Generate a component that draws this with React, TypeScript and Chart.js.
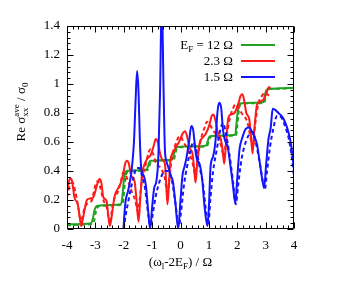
import React, { useEffect, useRef } from "react";
import { Chart, registerables } from "chart.js";
Chart.register(...registerables);

const X_TICKS = [-4, -3, -2, -1, 0, 1, 2, 3, 4];
const X_TICK_LABELS = ["-4", "-3", "-2", "-1", "0", "1", "2", "3", "4"];
const Y_TICKS = [0, 0.2, 0.4, 0.6, 0.8, 1, 1.2, 1.4];
const Y_TICK_LABELS = ["0", "0.2", "0.4", "0.6", "0.8", "1", "1.2", "1.4"];

const GREEN = "#22a022";
const RED = "#ff1a1a";
const BLUE = "#1414ff";

const GREEN_SOLID: number[][] = [
  [-4, 0.03], [-3.5, 0.035], [-3.15, 0.04], [-3.09, 0.07], [-3.03, 0.13], [-2.97, 0.155], [-2.9, 0.16],
  [-2.5, 0.165], [-2.1, 0.17], [-2.05, 0.22], [-2.0, 0.33], [-1.95, 0.385], [-1.9, 0.4], [-1.5, 0.405],
  [-1.2, 0.41], [-1.15, 0.43], [-1.1, 0.46], [-1.05, 0.47], [-0.6, 0.475], [-0.28, 0.48], [-0.23, 0.52],
  [-0.18, 0.555], [-0.12, 0.565], [0.5, 0.57], [0.9, 0.575], [0.95, 0.6], [1.0, 0.63], [1.05, 0.64],
  [1.6, 0.645], [1.93, 0.65], [1.97, 0.72], [2.01, 0.8], [2.05, 0.85], [2.1, 0.865], [2.6, 0.87],
  [2.93, 0.875], [2.97, 0.92], [3.02, 0.955], [3.08, 0.965], [3.5, 0.97], [4, 0.975],
];
const GREEN_DASHED: number[][] = [
  [-4, 0.025], [-3.5, 0.03], [-3.1, 0.035], [-3.04, 0.06], [-2.98, 0.12], [-2.92, 0.15], [-2.85, 0.158],
  [-2.5, 0.162], [-2.06, 0.168], [-2.01, 0.21], [-1.96, 0.32], [-1.91, 0.38], [-1.85, 0.395], [-1.5, 0.4],
  [-1.16, 0.408], [-1.11, 0.425], [-1.06, 0.455], [-1.0, 0.467], [-0.6, 0.472], [-0.24, 0.478], [-0.19, 0.51],
  [-0.14, 0.55], [-0.08, 0.562], [0.5, 0.567], [0.93, 0.572], [0.98, 0.595], [1.03, 0.625], [1.08, 0.638],
  [1.6, 0.643], [1.96, 0.648], [2.0, 0.71], [2.04, 0.79], [2.08, 0.845], [2.13, 0.862], [2.6, 0.867],
  [2.96, 0.872], [3.0, 0.915], [3.05, 0.952], [3.11, 0.963], [3.5, 0.968], [4, 0.972],
];
const RED_SOLID: number[][] = [
  [-4, 0.26], [-3.95, 0.31], [-3.89, 0.35], [-3.82, 0.33], [-3.74, 0.22], [-3.62, 0.17], [-3.55, 0.08],
  [-3.5, 0.02], [-3.45, 0.06], [-3.38, 0.13], [-3.3, 0.2], [-3.2, 0.21], [-3.07, 0.22], [-3.0, 0.26],
  [-2.92, 0.32], [-2.85, 0.345], [-2.79, 0.32], [-2.72, 0.22], [-2.6, 0.19], [-2.55, 0.1], [-2.49, 0.02],
  [-2.43, 0.08], [-2.36, 0.18], [-2.3, 0.24], [-2.2, 0.28], [-2.1, 0.32], [-2.02, 0.38], [-1.95, 0.45],
  [-1.89, 0.47], [-1.82, 0.45], [-1.74, 0.37], [-1.62, 0.33], [-1.55, 0.2], [-1.48, 0.05], [-1.42, 0.2],
  [-1.36, 0.37], [-1.28, 0.44], [-1.19, 0.48], [-1.05, 0.51], [-0.95, 0.57], [-0.87, 0.62], [-0.8, 0.6],
  [-0.72, 0.52], [-0.65, 0.48], [-0.55, 0.45], [-0.5, 0.3], [-0.46, 0.17], [-0.41, 0.3], [-0.35, 0.48],
  [-0.25, 0.53], [-0.15, 0.57], [-0.05, 0.6], [0.08, 0.66], [0.16, 0.675], [0.23, 0.64], [0.32, 0.56],
  [0.42, 0.52], [0.48, 0.42], [0.53, 0.32], [0.58, 0.43], [0.67, 0.59], [0.78, 0.63], [0.9, 0.66],
  [1.02, 0.72], [1.1, 0.78], [1.16, 0.79], [1.23, 0.75], [1.32, 0.66], [1.42, 0.62], [1.48, 0.55],
  [1.54, 0.45], [1.6, 0.58], [1.68, 0.76], [1.78, 0.79], [1.9, 0.8], [2.03, 0.86], [2.12, 0.92],
  [2.18, 0.93], [2.24, 0.89], [2.32, 0.8], [2.42, 0.76], [2.48, 0.65], [2.54, 0.52], [2.6, 0.68],
  [2.7, 0.86], [2.82, 0.88], [2.95, 0.9], [3.05, 0.95], [3.12, 0.98], [3.16, 0.97],
];
const RED_DASHED: number[][] = [
  [-4, 0.22], [-3.9, 0.3], [-3.8, 0.32], [-3.7, 0.25], [-3.6, 0.15], [-3.52, 0.06], [-3.46, 0.08],
  [-3.38, 0.15], [-3.25, 0.18], [-3.12, 0.2], [-3.05, 0.26], [-2.97, 0.32], [-2.9, 0.33], [-2.82, 0.28],
  [-2.72, 0.2], [-2.6, 0.15], [-2.5, 0.06], [-2.44, 0.1], [-2.35, 0.2], [-2.2, 0.26], [-2.1, 0.33],
  [-2.02, 0.39], [-1.95, 0.38], [-1.85, 0.33], [-1.72, 0.26], [-1.6, 0.2], [-1.5, 0.12], [-1.44, 0.2],
  [-1.35, 0.35], [-1.22, 0.45], [-1.12, 0.53], [-1.05, 0.55], [-0.97, 0.52], [-0.85, 0.45], [-0.7, 0.42],
  [-0.55, 0.35], [-0.47, 0.25], [-0.4, 0.33], [-0.3, 0.5], [-0.18, 0.58], [-0.08, 0.63], [0.0, 0.64],
  [0.1, 0.6], [0.25, 0.55], [0.42, 0.46], [0.52, 0.38], [0.6, 0.48], [0.72, 0.62], [0.85, 0.7],
  [0.93, 0.74], [1.0, 0.73], [1.15, 0.68], [1.3, 0.64], [1.45, 0.56], [1.53, 0.5], [1.6, 0.6],
  [1.72, 0.75], [1.85, 0.83], [1.93, 0.86], [2.0, 0.85], [2.15, 0.8], [2.35, 0.74], [2.5, 0.6],
  [2.56, 0.56], [2.62, 0.7], [2.75, 0.87], [2.88, 0.92], [2.95, 0.94], [3.05, 0.93], [3.12, 0.92],
];
const BLUE_SOLID: number[][] = [
  [-2.01, 0.0], [-1.97, 0.12], [-1.93, 0.2], [-1.85, 0.26], [-1.78, 0.33], [-1.72, 0.41], [-1.64, 0.6],
  [-1.58, 0.9], [-1.53, 1.09], [-1.48, 0.95], [-1.43, 0.6], [-1.38, 0.41], [-1.3, 0.37], [-1.22, 0.3],
  [-1.15, 0.15], [-1.07, 0.0], [-1.0, 0.15], [-0.93, 0.28], [-0.85, 0.33], [-0.78, 0.5], [-0.72, 0.95],
  [-0.66, 1.6], [-0.6, 1.0], [-0.55, 0.55], [-0.5, 0.47], [-0.42, 0.42], [-0.35, 0.37], [-0.27, 0.33],
  [-0.18, 0.18], [-0.08, 0.0], [0.0, 0.2], [0.07, 0.37], [0.14, 0.43], [0.2, 0.48], [0.3, 0.6],
  [0.38, 0.71], [0.45, 0.68], [0.52, 0.55], [0.58, 0.48], [0.67, 0.45], [0.76, 0.35], [0.85, 0.15],
  [0.95, 0.02], [1.0, 0.15], [1.06, 0.43], [1.15, 0.5], [1.23, 0.6], [1.3, 0.8], [1.36, 0.87],
  [1.43, 0.84], [1.5, 0.68], [1.57, 0.61], [1.66, 0.57], [1.75, 0.45], [1.85, 0.3], [1.93, 0.18],
  [2.0, 0.35], [2.08, 0.55], [2.18, 0.63], [2.3, 0.69], [2.42, 0.7], [2.52, 0.67], [2.62, 0.63],
  [2.7, 0.58], [2.8, 0.45], [2.9, 0.32], [2.95, 0.29], [3.02, 0.45], [3.1, 0.62], [3.18, 0.7],
  [3.25, 0.83], [3.35, 0.82], [3.45, 0.8], [3.6, 0.77], [3.72, 0.72], [3.8, 0.67], [3.9, 0.58],
  [3.96, 0.48], [4.0, 0.41],
];
const BLUE_DASHED: number[][] = [
  [-2.0, 0.0], [-1.93, 0.1], [-1.85, 0.18], [-1.75, 0.28], [-1.65, 0.36], [-1.55, 0.42], [-1.45, 0.42],
  [-1.35, 0.36], [-1.25, 0.28], [-1.15, 0.12], [-1.05, 0.02], [-0.98, 0.1], [-0.88, 0.22], [-0.78, 0.3],
  [-0.68, 0.36], [-0.55, 0.4], [-0.42, 0.4], [-0.3, 0.33], [-0.18, 0.18], [-0.06, 0.02], [0.02, 0.12],
  [0.12, 0.3], [0.22, 0.42], [0.35, 0.54], [0.45, 0.6], [0.55, 0.55], [0.68, 0.42], [0.8, 0.3],
  [0.9, 0.12], [0.98, 0.03], [1.05, 0.2], [1.15, 0.4], [1.28, 0.55], [1.4, 0.68], [1.5, 0.73],
  [1.6, 0.66], [1.72, 0.52], [1.85, 0.33], [1.95, 0.17], [2.03, 0.3], [2.15, 0.48], [2.3, 0.6],
  [2.45, 0.66], [2.55, 0.67], [2.65, 0.6], [2.78, 0.47], [2.9, 0.33], [2.97, 0.27], [3.05, 0.4],
  [3.15, 0.56], [3.28, 0.7], [3.4, 0.78], [3.55, 0.77], [3.7, 0.7], [3.82, 0.62], [3.92, 0.5], [4.0, 0.36],
];

const FONT_FAMILY = '"Liberation Serif", "Times New Roman", serif';
const NORMAL = `13px ${FONT_FAMILY}`;
const SMALL = `9px ${FONT_FAMILY}`;

type Part = { t?: string; small?: boolean; dy?: number; sup?: string; sub?: string };

const LEGEND_ENTRIES: { parts: Part[]; color: string }[] = [
  { parts: [{ t: "E" }, { t: "F", small: true, dy: 3 }, { t: " = 12 Ω" }], color: GREEN },
  { parts: [{ t: "2.3 Ω" }], color: RED },
  { parts: [{ t: "1.5 Ω" }], color: BLUE },
];
const Y_TITLE: Part[] = [{ t: "Re σ" }, { sup: "ave", sub: "xx" }, { t: " / σ" }, { t: "0", small: true, dy: 3 }];
const X_TITLE: Part[] = [{ t: "(ω" }, { t: "l", small: true, dy: 3 }, { t: "-2E" }, { t: "F", small: true, dy: 3 }, { t: ") / Ω" }];

function partWidth(ctx: CanvasRenderingContext2D, p: Part): number {
  if (p.sup !== undefined) {
    ctx.font = SMALL;
    return Math.max(ctx.measureText(p.sup).width, ctx.measureText(p.sub || "").width);
  }
  ctx.font = p.small ? SMALL : NORMAL;
  return ctx.measureText(p.t || "").width;
}
function totalWidth(ctx: CanvasRenderingContext2D, parts: Part[]) {
  return parts.reduce((s, p) => s + partWidth(ctx, p), 0);
}
function drawParts(ctx: CanvasRenderingContext2D, parts: Part[], x: number, y: number) {
  let cx = x;
  ctx.textAlign = "left";
  ctx.textBaseline = "alphabetic";
  for (const p of parts) {
    const w = partWidth(ctx, p);
    if (p.sup !== undefined) {
      ctx.font = SMALL;
      ctx.fillText(p.sup, cx, y - 6);
      ctx.fillText(p.sub || "", cx, y + 3);
    } else {
      ctx.font = p.small ? SMALL : NORMAL;
      ctx.fillText(p.t || "", cx, y + (p.dy || 0));
    }
    cx += w;
  }
}

const decorPlugin = {
  id: "decor",
  afterDraw(chart: any) {
    const { ctx, chartArea: a, scales } = chart;
    const xs = scales.x;
    const ys = scales.y;
    ctx.save();
    ctx.strokeStyle = "#000";
    ctx.lineWidth = 1;
    const L = Math.round(a.left) + 0.5;
    const R = Math.round(a.right) - 0.5;
    const T = Math.round(a.top) + 0.5;
    const B = Math.round(a.bottom) - 0.5;
    ctx.beginPath();
    ctx.rect(L, T, R - L, B - T);
    ctx.stroke();
    ctx.beginPath();
    for (let i = 0; i <= 40; i++) {
      const v = -4 + i * 0.2;
      const len = i % 5 === 0 ? 6 : 3;
      const px = Math.round(xs.getPixelForValue(v)) + 0.5;
      ctx.moveTo(px, B);
      ctx.lineTo(px, B - len);
      ctx.moveTo(px, T);
      ctx.lineTo(px, T + len);
    }
    for (let i = 0; i <= 35; i++) {
      const v = i * 0.04;
      const len = i % 5 === 0 ? 6 : 3;
      const py = Math.round(ys.getPixelForValue(v)) + 0.5;
      ctx.moveTo(L, py);
      ctx.lineTo(L + len, py);
      ctx.moveTo(R, py);
      ctx.lineTo(R - len, py);
    }
    ctx.stroke();

    ctx.fillStyle = "#000";
    // legend
    const lineYs = [45, 61, 77];
    LEGEND_ENTRIES.forEach((e, i) => {
      const y = lineYs[i];
      const w = totalWidth(ctx, e.parts);
      ctx.fillStyle = "#000";
      drawParts(ctx, e.parts, 233 - w, y + 4);
      ctx.strokeStyle = e.color;
      ctx.lineWidth = 2;
      ctx.beginPath();
      ctx.moveTo(241, y);
      ctx.lineTo(275, y);
      ctx.stroke();
    });

    // x title
    ctx.fillStyle = "#000";
    const xc = (a.left + a.right) / 2;
    const xw = totalWidth(ctx, X_TITLE);
    drawParts(ctx, X_TITLE, xc - xw / 2, 266);

    // y title
    ctx.save();
    ctx.translate(25, 112);
    ctx.rotate(-Math.PI / 2);
    const yw = totalWidth(ctx, Y_TITLE);
    drawParts(ctx, Y_TITLE, -yw / 2, 0);
    ctx.restore();

    ctx.restore();
  },
};

function ds(points: number[][], color: string, dashed: boolean, order: number) {
  return {
    data: points.map((p) => ({ x: p[0], y: p[1] })),
    borderColor: color,
    backgroundColor: color,
    borderWidth: 2,
    borderDash: dashed ? [4, 3] : [],
    pointRadius: 0,
    fill: false,
    cubicInterpolationMode: "monotone" as const,
    order,
  };
}

export default function App() {
  const ref = useRef<HTMLCanvasElement | null>(null);
  useEffect(() => {
    if (!ref.current) return;
    const chart = new Chart(ref.current, {
      type: "line",
      data: {
        datasets: [
          ds(GREEN_SOLID, GREEN, false, 6),
          ds(GREEN_DASHED, GREEN, true, 5),
          ds(RED_SOLID, RED, false, 4),
          ds(RED_DASHED, RED, true, 3),
          ds(BLUE_SOLID, BLUE, false, 2),
          ds(BLUE_DASHED, BLUE, true, 1),
        ] as any,
      },
      options: {
        animation: false,
        responsive: false,
        devicePixelRatio: 1,
        layout: { padding: { left: 0, top: 26, right: 44, bottom: 0 } },
        plugins: { legend: { display: false }, tooltip: { enabled: false }, title: { display: false } },
        events: [],
        scales: {
          x: {
            type: "linear",
            min: -4,
            max: 4,
            grid: { display: false, drawTicks: false },
            border: { display: false },
            afterBuildTicks: (s: any) => {
              s.ticks = X_TICKS.map((v) => ({ value: v }));
            },
            afterFit: (s: any) => {
              s.height = 55;
              s.paddingLeft = 0;
              s.paddingRight = 0;
            },
            ticks: {
              color: "#000",
              padding: 9,
              maxRotation: 0,
              font: { family: FONT_FAMILY, size: 13 },
              callback: (_v: any, i: number) => X_TICK_LABELS[i],
            },
          },
          y: {
            type: "linear",
            min: 0,
            max: 1.4,
            grid: { display: false, drawTicks: false },
            border: { display: false },
            afterBuildTicks: (s: any) => {
              s.ticks = Y_TICKS.map((v) => ({ value: v }));
            },
            afterFit: (s: any) => {
              s.width = 67;
              s.paddingTop = 0;
              s.paddingBottom = 0;
            },
            ticks: {
              color: "#000",
              padding: 7,
              font: { family: FONT_FAMILY, size: 13 },
              callback: (_v: any, i: number) => Y_TICK_LABELS[i],
            },
          },
        },
      } as any,
      plugins: [decorPlugin],
    });
    return () => chart.destroy();
  }, []);
  return (
    <div style={{ position: "absolute", left: 0, top: 0, width: 338, height: 284, background: "#fff" }}>
      <canvas ref={ref} width={338} height={284} style={{ width: 338, height: 284 }} />
    </div>
  );
}
